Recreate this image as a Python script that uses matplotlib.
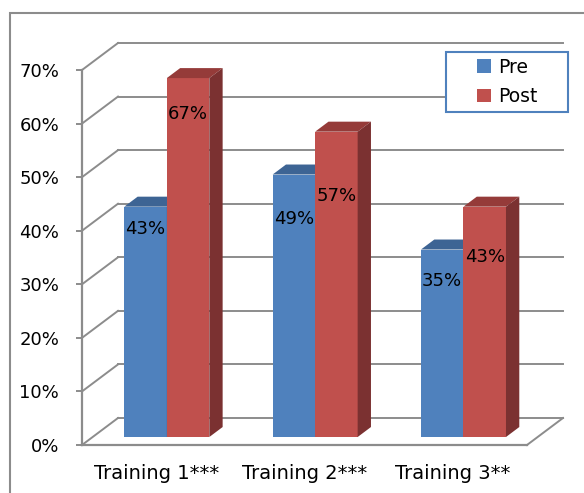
import matplotlib
matplotlib.use("Agg")
import matplotlib.pyplot as plt
from matplotlib.patches import Polygon, Rectangle, Patch
from matplotlib.ticker import PercentFormatter, FixedLocator
from matplotlib.lines import Line2D

# ---------------- data ----------------
categories = ["Training 1***", "Training 2***", "Training 3**"]
series_names = ["Pre", "Post"]
pre_values = [0.43, 0.49, 0.35]
post_values = [0.67, 0.57, 0.43]
y_ticks = [0.0, 0.1, 0.2, 0.3, 0.4, 0.5, 0.6, 0.7]
label_drop_px = [[22, 44, 31], [36, 64, 50]]  # how far data labels sit below bar tops

# ---------------- style ----------------
front_colors = ["#4f81bd", "#c0504d"]
top_colors = ["#3d6494", "#953b39"]
side_colors = ["#3a5f8c", "#7b3131"]
grid_color = "#8c8c8c"
FONT = ["DejaVu Sans"]
plt.rcParams["font.family"] = FONT

W, H = 584, 493
fig = plt.figure(figsize=(W / 100, H / 100), dpi=100)
ax = fig.add_axes([0, 0, 1, 1])

# pixel geometry of the front plane
x0_px, cat_px = 82.0, 148.33
y0_px, unit_px = 445.0, 535.7
ax.set_xlim(-x0_px / cat_px, (W - x0_px) / cat_px)
ax.set_ylim(-(H - y0_px) / unit_px, y0_px / unit_px)

DX = 36.0 / cat_px      # depth offset of back wall (x, category units)
DY = 27.0 / unit_px     # depth offset of back wall (y, value units)
d0 = 0.296              # bar front depth fraction
dd = 0.37               # bar depth fraction
bw = 0.2865             # bar width
ncat = len(categories)
ymax = y_ticks[-1]

# ---------------- walls / gridlines ----------------
for t in y_ticks:
    ax.add_line(Line2D([0, DX], [t, t + DY], color=grid_color, lw=1.4, zorder=1))
    ax.add_line(Line2D([DX, ncat + DX], [t + DY, t + DY], color=grid_color, lw=1.4, zorder=1))
# floor right edge
ax.add_line(Line2D([ncat, ncat + DX], [0, DY], color=grid_color, lw=1.4, zorder=1))

# ---------------- bars ----------------
values = [pre_values, post_values]
for i in range(ncat):
    for s in range(2):
        v = values[s][i]
        left = i + 0.5 - bw + s * bw + d0 * DX
        base = d0 * DY
        ax.bar(left, v, width=bw, bottom=base, align="edge",
               color=front_colors[s], edgecolor="none", zorder=3 + s)
        right = left + bw
        ax.add_patch(Polygon(
            [(left, v + base), (right, v + base),
             (right + dd * DX, v + base + dd * DY), (left + dd * DX, v + base + dd * DY)],
            closed=True, facecolor=top_colors[s], edgecolor="none", zorder=3 + s))
        ax.add_patch(Polygon(
            [(right, base), (right, v + base),
             (right + dd * DX, v + base + dd * DY), (right + dd * DX, base + dd * DY)],
            closed=True, facecolor=side_colors[s], edgecolor="none", zorder=3 + s))
        # data label
        ax.annotate(f"{round(v * 100)}%", xy=(left + bw / 2, v + base),
                    xytext=(0, -label_drop_px[s][i] * 0.72), textcoords="offset points",
                    ha="center", va="center", fontsize=13, color="black", zorder=10)

# ---------------- axes ----------------
for sp in ["top", "right"]:
    ax.spines[sp].set_visible(False)
ax.spines["left"].set_position(("data", 0))
ax.spines["left"].set_bounds(0, ymax)
ax.spines["bottom"].set_position(("data", 0))
ax.spines["bottom"].set_bounds(0, ncat)
for sp in ["left", "bottom"]:
    ax.spines[sp].set_color(grid_color)
    ax.spines[sp].set_linewidth(1.6)
    ax.spines[sp].set_zorder(2)

ax.yaxis.set_major_locator(FixedLocator(y_ticks))
ax.yaxis.set_major_formatter(PercentFormatter(1.0, decimals=0))
ax.tick_params(axis="y", direction="out", length=4.5, width=1.4, color=grid_color,
               pad=12, labelsize=13)
ax.set_xticks([i + 0.5 for i in range(ncat)])
ax.set_xticklabels(categories)
ax.tick_params(axis="x", length=0, pad=14, labelsize=14)
ax.patch.set_visible(False)

# ---------------- chart border ----------------
fig.add_artist(Rectangle((10 / W, -0.1), 1.2, (H - 13) / H + 0.1, transform=fig.transFigure,
                         facecolor="none", edgecolor=grid_color, lw=1.5))

# ---------------- legend ----------------
lx0, lx1, ly0, ly1 = 446, 568, 52, 112
fig.add_artist(Rectangle((lx0 / W, 1 - ly1 / H), (lx1 - lx0) / W, (ly1 - ly0) / H,
                         transform=fig.transFigure, facecolor="white",
                         edgecolor="#4f81bd", lw=1.5, zorder=20))
handles = [Patch(facecolor=c, edgecolor="none") for c in front_colors]
leg = fig.legend(handles, series_names, loc="center",
                 bbox_to_anchor=((lx0 + lx1) / 2 / W, 1 - (ly0 + ly1) / 2 / H),
                 frameon=False, fontsize=13.5, handlelength=0.75, handleheight=0.75,
                 handletextpad=0.35, labelspacing=0.55, borderpad=0)
leg.set_zorder(21)

fig.savefig("out.png", dpi=100)
